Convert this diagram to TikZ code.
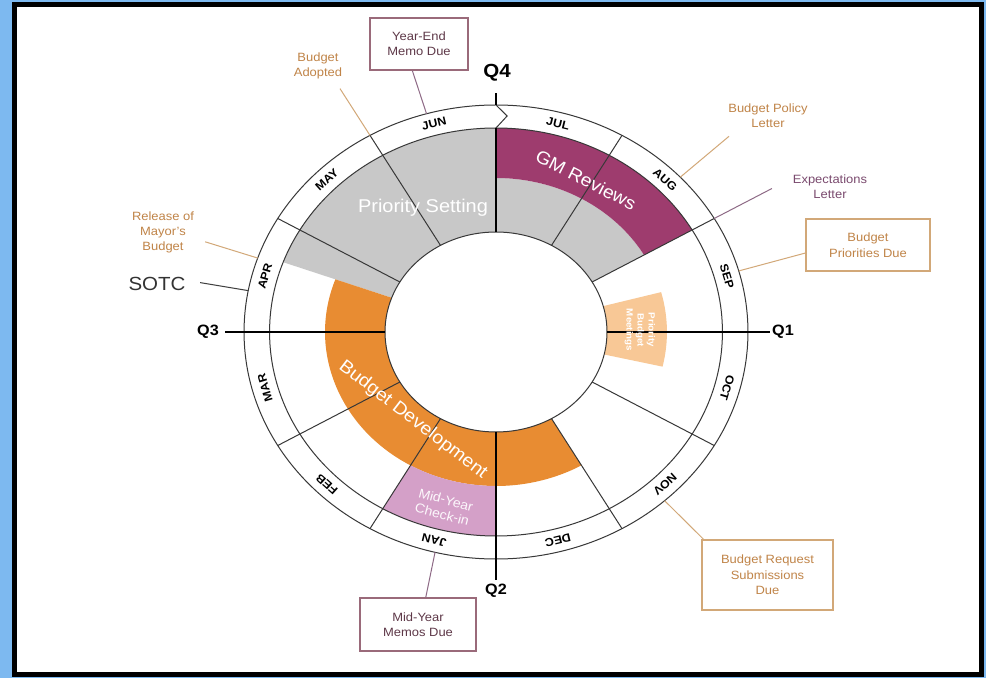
\documentclass[tikz,border=0pt]{standalone}
\usepackage{fontspec}
\setmainfont{Liberation Sans}[FakeStretch=1.08]
\usetikzlibrary{calc}
\definecolor{bgblue}{HTML}{7DB9F0}
\definecolor{psgray}{HTML}{C8C8C8}
\definecolor{gmmag}{HTML}{9E3C6E}
\definecolor{bdorange}{HTML}{E88C32}
\definecolor{mypink}{HTML}{D4A0C8}
\definecolor{mypeach}{HTML}{F8C896}
\definecolor{tantxt}{HTML}{C08448}
\definecolor{tanln}{HTML}{D2A878}
\definecolor{mauvetxt}{HTML}{7A4A6E}
\definecolor{mauveln}{HTML}{8E6A86}
\definecolor{boxmaroon}{HTML}{9A6A7A}
\definecolor{boxtxt}{HTML}{5E3848}
\begin{document}
\begin{tikzpicture}[x=1pt,y=1pt,
  ring/.style={draw=black!78,line width=1pt},
  qline/.style={draw=black,line width=1.6pt},
  month/.style={font=\fontsize{11.5}{13}\selectfont\bfseries,inner sep=0pt},
  qlab/.style={font=\fontsize{15}{17}\selectfont\bfseries,inner sep=2pt},
  inlab/.style={text=white,align=center},
  tantext/.style={text=tantxt,align=center,font=\fontsize{12}{15}\selectfont,inner sep=2pt},
  mauvetext/.style={text=mauvetxt,align=center,font=\fontsize{12}{15}\selectfont,inner sep=2pt},
  tanbox/.style={draw=tanln,line width=1.2pt,text=tantxt,align=center,font=\fontsize{12}{15.5}\selectfont,minimum width=124pt,minimum height=52pt},
  mauvebox/.style={draw=boxmaroon,line width=1.2pt,text=boxtxt,align=center,font=\fontsize{12}{15}\selectfont,minimum height=53pt},
  tanlead/.style={draw=tanln,line width=1pt},
  mauvelead/.style={draw=mauveln,line width=1pt},
  darklead/.style={draw=black!75,line width=1pt}
]
\useasboundingbox (0,0) rectangle (986,678);
\fill[bgblue] (0,0) rectangle (986,678);
\draw[line width=5pt,fill=white] (14.5,3.5) rectangle (981.5,673.5);

% ---- callout texts and boxes ----
\node[tantext] (badopt) at (318,612) {Budget\\Adopted};
\node[tantext] (relmb) at (163,446) {Release of\\Mayor's\\Budget};
\node[text=black!80,font=\fontsize{19}{21}\selectfont,inner sep=2pt] (sotc) at (157,394) {SOTC};
\node[tantext] (bpl) at (768,562) {Budget Policy\\Letter};
\node[mauvetext] (exl) at (830,491) {Expectations\\Letter};
\node[tanbox] (bpd) at (868,433) {Budget\\Priorities Due};
\node[tanbox,minimum width=131pt,minimum height=70pt] (brs) at (767.5,103) {Budget Request\\Submissions\\Due};
\node[mauvebox,minimum width=98pt,minimum height=52pt] (ye) at (419,634) {Year-End\\Memo Due};
\node[mauvebox,minimum width=116pt] (mym) at (418,53.5) {Mid-Year\\Memos Due};

% ---- quarter labels ----
\node[font=\fontsize{19}{21}\selectfont\bfseries] (q4) at (497,605) {Q4};
\node[qlab] (q1) at (783,346) {Q1};
\node[qlab,inner sep=4pt] (q2) at (496,87) {Q2};
\node[qlab,inner sep=6pt] (q3) at (208,346) {Q3};

\begin{scope}[shift={(496,346)},xscale=1.11]
  % fills
  \fill[psgray] (90:204) arc[start angle=90,end angle=160,radius=204] -- (160:100) arc[start angle=160,end angle=90,radius=100] -- cycle;
  \fill[psgray] (30:154) arc[start angle=30,end angle=90,radius=154] -- (90:100) arc[start angle=90,end angle=30,radius=100] -- cycle;
  \fill[gmmag] (30:204) arc[start angle=30,end angle=90,radius=204] -- (90:154) arc[start angle=90,end angle=30,radius=154] -- cycle;
  \fill[bdorange] (160:154) arc[start angle=160,end angle=300,radius=154] -- (300:100) arc[start angle=300,end angle=160,radius=100] -- cycle;
  \fill[mypink] (240:204) arc[start angle=240,end angle=270,radius=204] -- (270:154) arc[start angle=270,end angle=240,radius=154] -- cycle;
  \fill[mypeach] (-13:154) arc[start angle=-13,end angle=15,radius=154] -- (15:100) arc[start angle=15,end angle=-13,radius=100] -- cycle;

  % circles
  \draw[ring] (0,0) circle[radius=100];
  \draw[ring] (0,0) circle[radius=204];
  \draw[ring] (0,0) circle[radius=227];

  % month dividers
  \foreach \a in {30,60,120,150,210,240,300,330}
    \draw[ring] (\a:100) -- (\a:227);

  % quarter axes
  \draw[qline] (90:100) -- (90:204);
  \draw[ring] (90:204) -- (10,216) -- (90:227);
  \draw[qline] (90:227) -- (90:239);
  \draw[qline] (270:100) -- (q2.north);
  \draw[qline] (180:100) -- (q3.east);
  \draw[qline] (0:100) -- (q1.west);

  % month labels
  \foreach \m [count=\i] in {JUL,AUG,SEP,OCT,NOV,DEC,JAN,FEB,MAR,APR,MAY,JUN}{
    \pgfmathsetmacro\ang{105-30*\i}
    \pgfmathsetmacro\rot{atan2(-cos(\ang),1.11*sin(\ang))}
    \node[month,rotate=\rot] (mo\i) at (\ang:215.5) {\m};
  }

  % leader end points
  \coordinate (badoptend) at (120:281);
  \coordinate (relend) at (161:277);
  \coordinate (sotcend) at (169.5:271);
  \coordinate (bplend) at (43:287);
  \coordinate (exlend) at (30:287);

  % leaders
  \draw[tanlead] (120:227) -- (badoptend);
  \draw[tanlead] (161:227) -- (relend);
  \draw[darklead] (169.5:227) -- (sotcend);
  \draw[tanlead] (43:227) -- (bplend);
  \draw[mauvelead] (30:227) -- (exlend);
  \draw[tanlead] (15.6:227) -- ([yshift=-8pt]bpd.west);
  \draw[tanlead] (-48:227) -- ([xshift=2pt]brs.north west);
  \draw[mauvelead] (256:227) -- ([xshift=7pt]mym.north);
  \draw[mauvelead] (106:227) -- ([xshift=-6pt]ye.south);
\end{scope}

% ---- inner labels ----
\node[inlab,font=\fontsize{18.5}{20}\selectfont] (pset) at (423,470) {Priority Setting};
\node[inlab,font=\fontsize{18}{20}\selectfont,rotate=-27] (gmr) at (586,498) {GM Reviews};
\node[inlab,font=\fontsize{18}{20}\selectfont,rotate=-37.5] (bdev) at (413,258) {Budget Development};
\node[inlab,text=white!92!mypink,font=\fontsize{13}{15}\selectfont,rotate=-15] (mycheck) at (444,171) {Mid-Year\\Check-in};
\node[inlab,font=\fontsize{9}{11}\selectfont\bfseries,rotate=-90] (pbm) at (640,348) {Priority\\Budget\\Meetings};
\end{tikzpicture}
\end{document}
